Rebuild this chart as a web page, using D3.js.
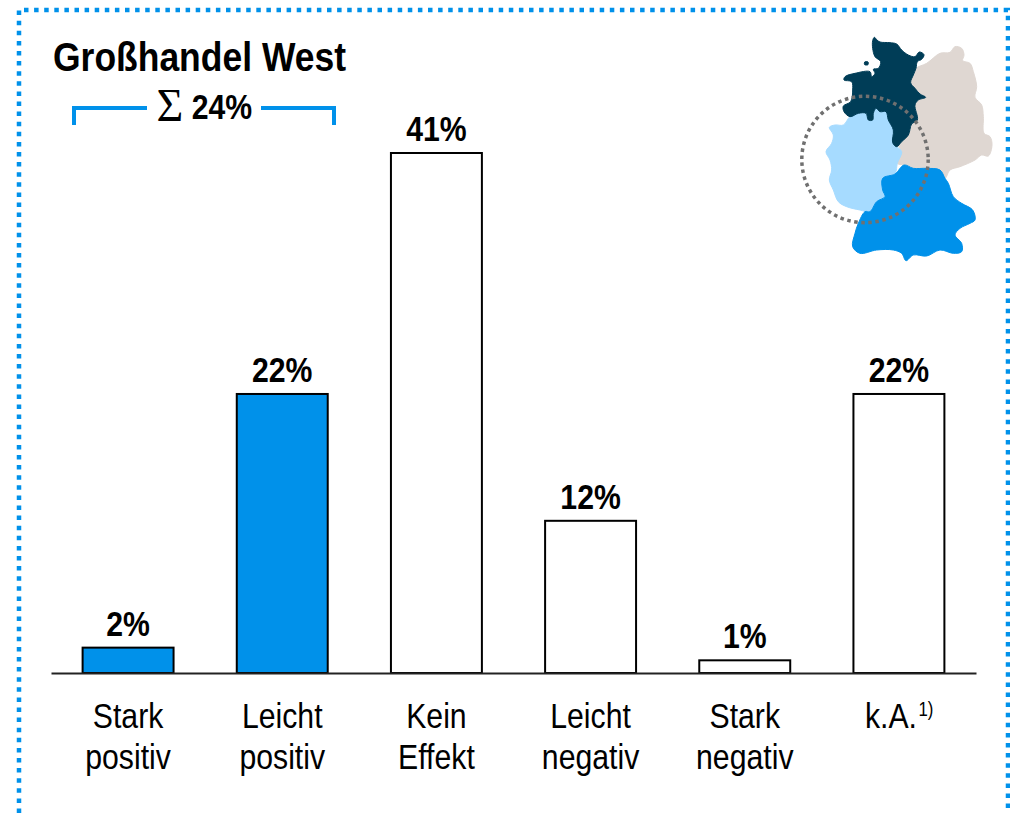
<!DOCTYPE html>
<html>
<head>
<meta charset="utf-8">
<script src="https://cdn.jsdelivr.net/npm/d3@7"></script>
<style>
body { margin: 0; background: #fff; }
svg { display: block; }
text { font-family: "Liberation Sans", Arial, sans-serif; fill: #000; }
</style>
</head>
<body>
<div id="chart"></div>
<script>
// data
var categories = ["Stark positiv", "Leicht positiv", "Kein Effekt", "Leicht negativ", "Stark negativ", "k.A."];
var labelLines = [["Stark", "positiv"], ["Leicht", "positiv"], ["Kein", "Effekt"], ["Leicht", "negativ"], ["Stark", "negativ"], ["k.A."]];
var values = [2, 22, 41, 12, 1, 22];
var highlighted = ["Stark positiv", "Leicht positiv"];

var blue = "#0091EA";
var squeeze = 0.84;  // the original font is narrower than Liberation Sans

var width = 1010, height = 813;

var svg = d3.select("#chart").append("svg")
    .attr("width", width)
    .attr("height", height);

// dotted frame, open at the bottom
svg.append("path")
    .attr("d", "M19,813V10H1008V813")
    .attr("fill", "none")
    .attr("stroke", blue)
    .attr("stroke-width", 4.5)
    .attr("stroke-dasharray", "4.5,5.6");

// scales
var x = d3.scaleBand()
    .domain(categories)
    .range([51, 976])
    .paddingInner(0.41)
    .paddingOuter(0.205);

var y = d3.scaleLinear()
    .domain([0, 41])
    .range([673, 153]);

function squeezedText(parent, px, py, size, weight, str) {
    return parent.append("text")
        .attr("transform", "translate(" + px + "," + py + ") scale(" + squeeze + ",1)")
        .attr("text-anchor", "middle")
        .attr("font-size", size)
        .attr("font-weight", weight)
        .text(str);
}

// bars
svg.selectAll(".bar")
    .data(categories)
    .enter()
    .append("rect")
    .attr("class", "bar")
    .attr("x", function(d) { return x(d); })
    .attr("y", function(d, i) { return y(values[i]); })
    .attr("width", x.bandwidth())
    .attr("height", function(d, i) { return y(0) - y(values[i]); })
    .attr("fill", function(d) { return highlighted.indexOf(d) >= 0 ? blue : "#fff"; })
    .attr("stroke", "#000")
    .attr("stroke-width", 2);

// value labels
categories.forEach(function(d, i) {
    squeezedText(svg, x(d) + x.bandwidth() / 2, y(values[i]) - 12, 36, "bold", values[i] + "%");
});

// axis
var xAxis = d3.axisBottom(x).tickSize(0).tickSizeOuter(0);
var axisGroup = svg.append("g")
    .attr("class", "x-axis axis")
    .attr("transform", "translate(0," + y(0) + ")")
    .call(xAxis);
axisGroup.select(".domain").attr("stroke", "#222").attr("stroke-width", 2);
axisGroup.selectAll(".tick text").remove();
axisGroup.selectAll(".tick").each(function(d, i) {
    var tick = d3.select(this);
    labelLines[i].forEach(function(line, j) {
        squeezedText(tick, 0, 55 + j * 41, 36, "normal", line);
    });
});
// footnote mark on k.A.
squeezedText(svg, 926, 716, 20, "normal", "1)");
axisGroup.selectAll(".tick").filter(function(d) { return d === "k.A."; })
    .select("text")
    .attr("transform", "translate(-8,55) scale(" + squeeze + ",1)");

// title
svg.append("text")
    .attr("transform", "translate(53,71) scale(0.887,1)")
    .attr("font-size", 40)
    .attr("font-weight", "bold")
    .text("Großhandel West");

// bracket with the sum
svg.append("path")
    .attr("d", "M74,125V108H147M261,108H334V125")
    .attr("fill", "none")
    .attr("stroke", blue)
    .attr("stroke-width", 4);
svg.append("text")
    .attr("x", 170)
    .attr("y", 121)
    .attr("text-anchor", "middle")
    .style("font-family", "Liberation Serif")
    .attr("font-size", 46)
    .text("Σ");
squeezedText(svg, 222, 119, 36, "bold", "24%");

// small map of Germany, outlines traced at 3x
var regions = [
    {color: "#DFD7D2", pts: "525,80 545,85 552,105 548,122 570,130 580,155 590,200 585,232 605,255 610,290 612,340 630,350 636,375 625,408 605,405 585,420 540,440 510,450 495,475 480,450 440,445 400,445 372,435 352,430 365,395 355,375 385,345 395,312 412,300 405,255 415,240 437,232 420,222 405,205 392,188 400,165 408,145 440,130 480,100 510,97"},
    {color: "#A6DBFF", pts: "210,290 235,280 258,280 265,300 278,300 280,280 288,265 300,275 318,275 325,300 340,330 338,368 350,380 365,395 352,430 345,460 308,475 308,510 315,530 290,545 270,575 240,570 200,560 175,545 160,510 148,480 155,450 150,420 138,395 155,370 160,345 148,322 165,315 190,315"},
    {color: blue, pts: "372,435 400,445 440,445 480,450 495,475 505,490 520,530 545,550 578,570 585,600 570,610 540,625 525,645 545,670 545,695 520,700 480,690 440,708 400,705 378,722 365,700 340,690 290,690 240,700 218,680 225,640 235,610 255,575 270,575 290,545 315,530 308,510 308,475 345,462"},
    {color: "#003D57", pts: "283,52 291,60 300,66 330,68 350,72 365,90 385,105 405,110 418,96 432,104 425,118 412,125 408,145 400,165 392,188 405,205 420,222 437,232 415,240 405,255 412,300 395,312 385,345 365,365 350,380 338,368 340,330 325,300 318,275 300,275 288,265 280,280 278,300 265,300 258,280 235,280 210,290 192,275 190,258 212,245 218,210 215,185 192,180 195,170 225,160 270,155 275,170 285,160 280,148 295,145 302,125 285,110 278,85 278,62"},
    {color: "#003D57", pts: "254,126 264,126 264,134 254,134"}
];
var outline = d3.line().curve(d3.curveCatmullRomClosed.alpha(0.5));
var map = svg.append("g")
    .attr("transform", "translate(780,20) scale(" + 1 / 3 + ")");
map.selectAll("path")
    .data(regions)
    .enter()
    .append("path")
    .attr("d", function(d) {
        return outline(d.pts.split(" ").map(function(p) { return p.split(",").map(Number); }));
    })
    .attr("fill", function(d) { return d.color; })
    .attr("stroke", function(d) { return d.color; })
    .attr("stroke-width", 3)
    .attr("stroke-linejoin", "round");

svg.append("circle")
    .attr("cx", 865)
    .attr("cy", 159.5)
    .attr("r", 63.2)
    .attr("fill", "none")
    .attr("stroke", "#707070")
    .attr("stroke-width", 3.5)
    .attr("stroke-dasharray", "3.5,3.6");
</script>
</body>
</html>
